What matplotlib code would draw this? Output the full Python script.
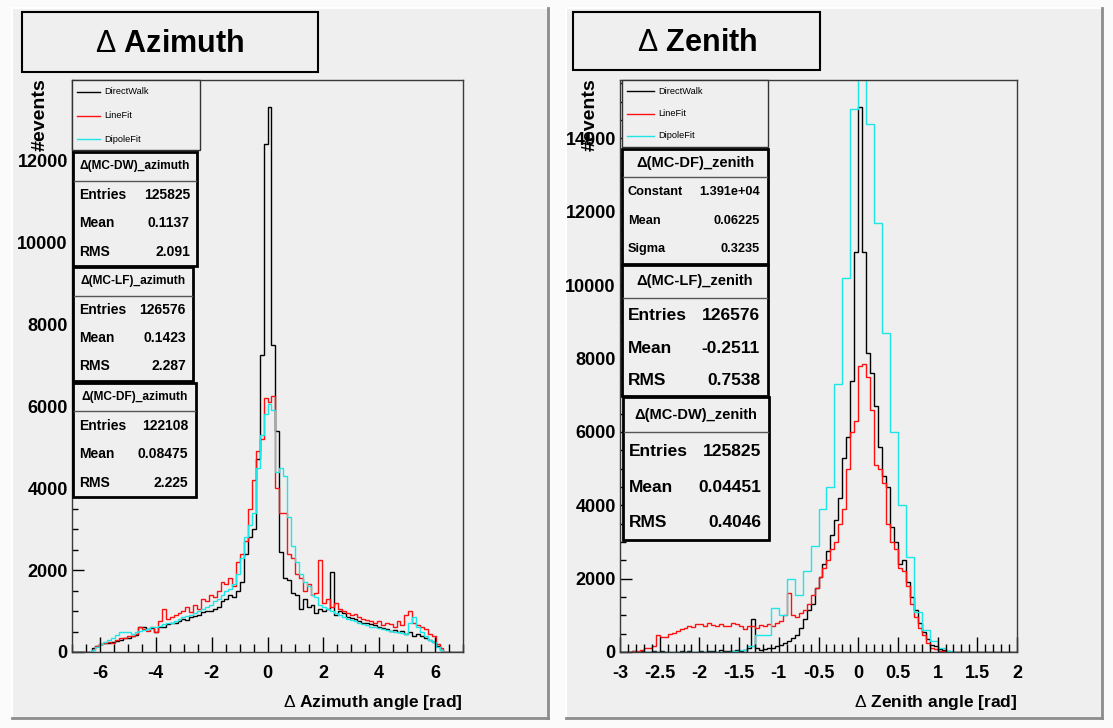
import matplotlib
matplotlib.use('Agg')
import matplotlib.pyplot as plt
import numpy as np
from matplotlib.patches import Rectangle
from matplotlib.lines import Line2D
from matplotlib.ticker import MultipleLocator

plt.rcParams['font.family'] = ['Liberation Sans', 'DejaVu Sans']
plt.rcParams['axes.unicode_minus'] = False
plt.rcParams['mathtext.fontset'] = 'custom'
plt.rcParams['mathtext.rm'] = 'Liberation Sans'
plt.rcParams['mathtext.bf'] = 'Liberation Sans:bold'

# ---------------- data ----------------
# azimuth: 100 bins from -7 to 7 rad
az_edges = np.linspace(-7, 7, 101)
az_dw = [0, 0, 0, 0, 0, 100, 150, 200, 220, 230,
         250, 280, 300, 330, 350, 380, 420, 600, 600, 560,
         580, 500, 600, 620, 680, 700, 720, 760, 800, 780,
         850, 880, 900, 980, 1000, 1000, 1050, 1100, 1250, 1300,
         1400, 1350, 1500, 1700, 2400, 2800, 3000, 4700, 7250, 12400,
         13300, 7500, 5400, 2450, 1800, 1750, 1450, 1400, 1050, 1300,
         1100, 1150, 950, 1050, 1000, 1050, 1950, 900, 1000, 950,
         850, 820, 800, 760, 700, 720, 680, 650, 600, 580,
         560, 520, 540, 500, 520, 450, 500, 400, 450, 380,
         350, 300, 250, 150, 50, 0, 0, 0, 0, 0]
az_lf = [0, 0, 0, 0, 0, 60, 150, 200, 220, 250,
         230, 300, 350, 330, 400, 380, 450, 600, 550, 520,
         600, 500, 750, 1050, 800, 850, 900, 950, 1000, 1100,
         980, 1150, 1050, 1300, 1250, 1400, 1350, 1500, 1700, 1650,
         1800, 1600, 2200, 2400, 2700, 3500, 4200, 4900, 5200, 6200,
         6100, 6250, 4000, 3400, 3400, 2400, 2300, 1900, 1800, 1500,
         1650, 1400, 1450, 2250, 1200, 1300, 1100, 1200, 1050, 1000,
         950, 900, 920, 850, 800, 780, 750, 700, 750, 650,
         700, 680, 600, 750, 650, 900, 1000, 700, 650, 600,
         550, 450, 400, 200, 100, 0, 0, 0, 0, 0]
az_df = [0, 0, 0, 0, 0, 50, 120, 200, 250, 300,
         350, 420, 480, 500, 480, 450, 500, 520, 540, 560,
         600, 620, 640, 680, 700, 720, 760, 800, 850, 880,
         900, 950, 1000, 1050, 1100, 1150, 1250, 1300, 1400, 1500,
         1550, 1650, 1900, 2300, 2800, 3100, 3400, 4500, 5300, 5800,
         6050, 5900, 4400, 4500, 4300, 3300, 2600, 2200, 1900, 1700,
         1600, 1400, 1350, 1150, 1100, 1050, 1000, 950, 900, 850,
         800, 780, 750, 700, 680, 650, 620, 600, 580, 560,
         540, 520, 500, 480, 460, 450, 700, 850, 600, 500,
         400, 300, 250, 120, 50, 0, 0, 0, 0, 0]

# zenith: DW and LF in 100 bins from -3 to 2, DF in 50 bins
ze_edges = np.linspace(-3, 2, 101)
ze_edges_df = np.linspace(-3, 2, 51)
ze_dw = [0, 0, 0, 20, 0, 40, 10, 0, 30, 0,
         20, 0, 0, 10, 0, 20, 0, 30, 0, 10,
         40, 0, 20, 30, 0, 50, 20, 40, 30, 60,
         40, 50, 100, 900, 100, 60, 80, 120, 100, 150,
         200, 250, 300, 380, 450, 650, 900, 1150, 1300, 1750,
         2050, 2400, 2750, 3200, 3600, 4200, 5300, 5850, 7400, 10900,
         14850, 10900, 8150, 7600, 6700, 5600, 4800, 4500, 3400, 3000,
         2400, 2500, 1900, 1500, 1150, 800, 550, 350, 200, 150,
         80, 50, 20, 0, 0, 0, 0, 0, 0, 0,
         0, 0, 0, 0, 0, 0, 0, 0, 0, 0]
ze_lf = [0, 0, 10, 20, 40, 60, 100, 120, 150, 450,
         400, 420, 480, 520, 560, 620, 650, 700, 680, 750,
         760, 720, 780, 740, 700, 760, 710, 720, 780, 760,
         720, 620, 700, 700, 650, 740, 700, 760, 720, 800,
         850, 1000, 1600, 1000, 950, 1050, 1150, 1300, 1550, 1750,
         2050, 2300, 2500, 2800, 3000, 3500, 3900, 5000, 6000, 6300,
         7800, 7850, 7500, 6600, 5100, 5000, 4600, 3500, 3000, 2800,
         2300, 2200, 1800, 1300, 950, 650, 450, 250, 120, 70,
         40, 20, 0, 0, 0, 0, 0, 0, 0, 0,
         0, 0, 0, 0, 0, 0, 0, 0, 0, 0]
ze_df = [0, 0, 0, 0, 0, 0, 0, 0, 10, 0,
         0, 0, 10, 0, 20, 60, 150, 450, 450, 1200,
         1000, 2000, 1560, 2200, 2900, 3900, 4500, 7300, 10200, 14800,
         16800, 14400, 11700, 8700, 6000, 4000, 2600, 1100, 600, 300,
         100, 40, 0, 0, 0, 0, 0, 0, 0, 0]

az_stats = [("\u0394(MC-DW)_azimuth", [("Entries", "125825"), ("Mean", "0.1137"), ("RMS", "2.091")]),
            ("\u0394(MC-LF)_azimuth", [("Entries", "126576"), ("Mean", "0.1423"), ("RMS", "2.287")]),
            ("\u0394(MC-DF)_azimuth", [("Entries", "122108"), ("Mean", "0.08475"), ("RMS", "2.225")])]
ze_stats = [("\u0394(MC-DF)_zenith", [("Constant", "1.391e+04"), ("Mean", "0.06225"), ("Sigma", "0.3235")]),
            ("\u0394(MC-LF)_zenith", [("Entries", "126576"), ("Mean", "-0.2511"), ("RMS", "0.7538")]),
            ("\u0394(MC-DW)_zenith", [("Entries", "125825"), ("Mean", "0.04451"), ("RMS", "0.4046")])]

names = ["DirectWalk", "LineFit", "DipoleFit"]
colors = ["black", "#ff1010", "#1ee6e6"]

# ---------------- layout helpers (pixel coords, origin top-left) ----------------
W, H = 1113, 728
BG = "#efefef"
fig = plt.figure(figsize=(W / 100, H / 100), dpi=100, facecolor="#fbfbfb")


def fx(x):
    return x / W


def fy(y):
    return 1 - y / H


def rect(x0, y0, x1, y1, lw=1.0, ec="black", fc=BG, z=5):
    fig.add_artist(Rectangle((fx(x0), fy(y1)), (x1 - x0) / W, (y1 - y0) / H,
                             transform=fig.transFigure, lw=lw, ec=ec, fc=fc, zorder=z))


def hline(x0, x1, y, color="black", lw=1.0, z=6):
    fig.add_artist(Line2D([fx(x0), fx(x1)], [fy(y), fy(y)], transform=fig.transFigure,
                          color=color, lw=lw, zorder=z))


def vline(x, y0, y1, color="black", lw=1.0, z=6):
    fig.add_artist(Line2D([fx(x), fx(x)], [fy(y0), fy(y1)], transform=fig.transFigure,
                          color=color, lw=lw, zorder=z))


def txt(x, y, s, size, ha="left", weight="bold", z=7, **kw):
    fig.text(fx(x), fy(y), s, fontsize=size, ha=ha, va="center", fontweight=weight,
             zorder=z, **kw)


def pad(x0, y0, x1, y1):
    rect(x0, y0, x1, y1, lw=0, fc=BG, z=-2)
    hline(x0, x1, y0, color="white", lw=1.5, z=-1)
    vline(x0, y0, y1, color="white", lw=1.5, z=-1)
    hline(x0, x1, y1, color="#8c8c8c", lw=2, z=-1)
    vline(x1, y0, y1, color="#8c8c8c", lw=2, z=-1)


def make_axes(x0, y0, x1, y1):
    ax = fig.add_axes([fx(x0), fy(y1), (x1 - x0) / W, (y1 - y0) / H])
    ax.set_facecolor(BG)
    for s in ax.spines.values():
        s.set_color("#3a3a3a")
        s.set_linewidth(1.0)
    ax.tick_params(which="both", direction="in", top=False, right=False, colors="black",
                   labelsize=13)
    ax.tick_params(axis="y", which="major", length=8.5, width=1, pad=3)
    ax.tick_params(axis="y", which="minor", length=4.5, width=1)
    ax.tick_params(axis="x", which="major", length=11, width=1, pad=9)
    ax.tick_params(axis="x", which="minor", length=6, width=1)
    return ax


def bold_labels(ax):
    for lab in ax.get_xticklabels() + ax.get_yticklabels():
        lab.set_fontweight("bold")


def legend_box(x0, y0, x1, y1, line_x0, line_x1, rows_y):
    rect(x0, y0, x1, y1, lw=1.0, ec="#333333")
    for name, c, yy in zip(names, colors, rows_y):
        hline(line_x0, line_x1, yy, color=c, lw=1.0, z=7)
        txt(line_x1 + 4, yy, name, 6.7, weight="normal")


def stats_box(x0, y0, x1, y1, y_div, title, rows, rows_y, t_size, r_size, lab_x, val_x):
    rect(x0, y0, x1, y1, lw=2.0, ec="black")
    hline(x0 + 1, x1 - 1, y_div, color="#555555", lw=1.0)
    txt((x0 + x1) / 2, (y0 + y_div) / 2, title, t_size, ha="center")
    for (k, v), yy in zip(rows, rows_y):
        txt(lab_x, yy, k, r_size)
        txt(val_x, yy, v, r_size, ha="right")


# ---------------- pads ----------------
pad(12, 8, 548, 718)
pad(566, 8, 1102, 718)

# ---------------- left pad: azimuth ----------------
ax1 = make_axes(72, 80, 463, 652)
for vals, c in zip([az_dw, az_lf, az_df], colors):
    ax1.stairs(vals, az_edges, color=c, lw=1.0)
ax1.set_xlim(-7, 7)
ax1.set_ylim(0, max(az_dw) * 1.05)
ax1.xaxis.set_major_locator(MultipleLocator(2))
ax1.xaxis.set_minor_locator(MultipleLocator(0.5))
ax1.yaxis.set_major_locator(MultipleLocator(2000))
ax1.yaxis.set_minor_locator(MultipleLocator(500))
bold_labels(ax1)

rect(22, 12, 318, 72, lw=1.5, ec="black")
txt(170, 44, "$\\Delta$ Azimuth", 22, ha="center")
fig.text(fx(40), fy(78), "#events", rotation=90, fontsize=14, fontweight="bold",
         ha="center", va="top", zorder=7)
txt(463, 703, "$\\Delta$ Azimuth angle [rad]", 12.5, ha="right")

legend_box(72, 80, 200, 150, 77, 100, [92, 115.5, 139])
stats_box(73, 152, 197, 266, 181, az_stats[0][0], az_stats[0][1], [195, 223, 252], 8.6, 10, 79, 190)
stats_box(73, 267, 193, 381, 296, az_stats[1][0], az_stats[1][1], [310, 338, 366.5], 8.6, 10, 79, 186)
stats_box(73, 383, 196, 497, 411, az_stats[2][0], az_stats[2][1], [426, 454.5, 483], 8.6, 10, 79, 188)

# ---------------- right pad: zenith ----------------
ax2 = make_axes(620, 80, 1017, 652)
ax2.stairs(ze_dw, ze_edges, color=colors[0], lw=1.0)
ax2.stairs(ze_lf, ze_edges, color=colors[1], lw=1.0)
ax2.stairs(ze_df, ze_edges_df, color=colors[2], lw=1.0)
ax2.set_xlim(-3, 2)
ax2.set_ylim(0, max(ze_dw) * 1.05)
ax2.xaxis.set_major_locator(MultipleLocator(0.5))
ax2.xaxis.set_minor_locator(MultipleLocator(0.1))
ax2.yaxis.set_major_locator(MultipleLocator(2000))
ax2.yaxis.set_minor_locator(MultipleLocator(500))
ax2.xaxis.set_major_formatter(plt.FuncFormatter(lambda v, p: "%g" % v))
bold_labels(ax2)

rect(573, 12, 820, 70, lw=1.5, ec="black")
txt(697, 43, "$\\Delta$ Zenith", 22, ha="center")
fig.text(fx(590), fy(78), "#events", rotation=90, fontsize=14, fontweight="bold",
         ha="center", va="top", zorder=7)
txt(1017, 703, "$\\Delta$ Zenith angle [rad]", 12.5, ha="right")

legend_box(622, 80, 768, 147, 627, 654, [91, 113.5, 136])
stats_box(622, 149, 768, 264, 177, ze_stats[0][0], ze_stats[0][1], [192, 221, 249], 10.5, 9.2, 628, 760)
stats_box(622, 265, 768, 396, 298, ze_stats[1][0], ze_stats[1][1], [316, 348, 380.5], 10.5, 12.5, 628, 760)
stats_box(623, 397, 769, 540, 432, ze_stats[2][0], ze_stats[2][1], [451, 487.5, 522.5], 10.5, 12.5, 629, 761)

fig.savefig("out.png", dpi=100, facecolor=fig.get_facecolor())
